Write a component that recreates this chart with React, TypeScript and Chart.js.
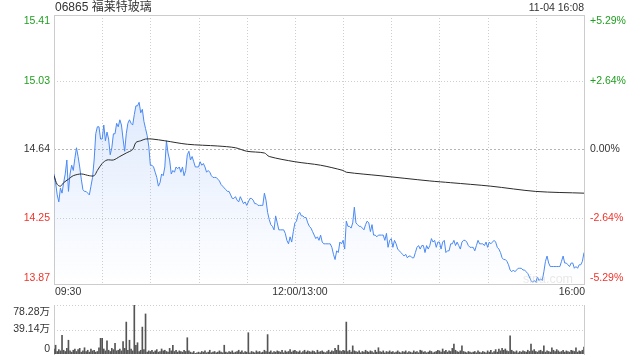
import React, { useEffect, useRef } from 'react';
import { Chart, registerables } from 'chart.js';

Chart.register(...registerables);

const title = '06865 福莱特玻璃';
const stamp = '11-04 16:08';
const watermark = 'sina.com';
const timeLabels = ['09:30', '12:00/13:00', '16:00'];
const timeLabelMinutes = [0, 150, 330];
const gridMinutes = [30, 60, 90, 120, 150, 180, 210, 240, 270, 300];
const prevClose = 14.64;
const priceTicks = [15.41, 15.03, 14.64, 14.25, 13.87];
const pctTicks = ['+5.29%', '+2.64%', '0.00%', '-2.64%', '-5.29%'];
const volTicks = [78.28, 39.14, 0];
const volTickLabels = ['78.28万', '39.14万', '0'];

// one price per trading minute, 09:30 .. 12:00 | 13:00 .. 16:00
const prices = [
  14.50, 14.45, 14.38, 14.34, 14.42, 14.39, 14.45, 14.50, 14.58, 14.40, 14.50, 14.55, 14.52, 14.59, 14.65, 14.60, 14.54, 14.47, 14.41, 14.40,
  14.40, 14.39, 14.38, 14.43, 14.48, 14.58, 14.73, 14.77, 14.77, 14.70, 14.70, 14.78, 14.69, 14.74, 14.70, 14.61, 14.65, 14.73, 14.73, 14.79,
  14.77, 14.81, 14.78, 14.70, 14.63, 14.73, 14.79, 14.81, 14.79, 14.78, 14.84, 14.89, 14.89, 14.91, 14.85, 14.87, 14.80, 14.76, 14.72, 14.66,
  14.55, 14.55, 14.54, 14.51, 14.48, 14.43, 14.45, 14.50, 14.49, 14.54, 14.69, 14.62, 14.58, 14.50, 14.52, 14.51, 14.54, 14.53, 14.54, 14.51,
  14.54, 14.49, 14.52, 14.61, 14.63, 14.58, 14.60, 14.57, 14.54, 14.54, 14.54, 14.57, 14.55, 14.56, 14.54, 14.51, 14.52, 14.51, 14.49, 14.48,
  14.48, 14.48, 14.47, 14.46, 14.44, 14.43, 14.42, 14.41, 14.40, 14.40, 14.38, 14.36, 14.36, 14.37, 14.35, 14.34, 14.37, 14.35, 14.33, 14.34,
  14.32, 14.34, 14.36, 14.36, 14.35, 14.33, 14.33, 14.32, 14.32, 14.32, 14.32, 14.39, 14.35, 14.28, 14.24, 14.21, 14.20, 14.18, 14.26, 14.22,
  14.18, 14.18, 14.18, 14.18, 14.16, 14.12, 14.10, 14.14, 14.11, 14.17, 14.22, 14.23, 14.27, 14.28, 14.26, 14.26, 14.25, 14.25, 14.22, 14.20,
  14.19, 14.17, 14.15, 14.13, 14.14, 14.12, 14.15, 14.11, 14.10, 14.10, 14.10, 14.10, 14.10, 14.08, 14.04, 14.01, 14.06, 14.05, 14.11, 14.10,
  14.12, 14.07, 14.23, 14.20, 14.20, 14.19, 14.22, 14.31, 14.22, 14.21, 14.20, 14.20, 14.19, 14.18, 14.21, 14.23, 14.22, 14.17, 14.21, 14.15,
  14.15, 14.14, 14.15, 14.15, 14.15, 14.15, 14.12, 14.16, 14.08, 14.12, 14.13, 14.08, 14.12, 14.10, 14.07, 14.06, 14.05, 14.04, 14.03, 14.04,
  14.02, 14.03, 14.03, 14.02, 14.02, 14.05, 14.08, 14.09, 14.07, 14.09, 14.09, 14.05, 14.09, 14.07, 14.09, 14.13, 14.11, 14.12, 14.08, 14.11,
  14.11, 14.07, 14.11, 14.12, 14.05, 14.06, 14.06, 14.10, 14.10, 14.12, 14.09, 14.11, 14.09, 14.07, 14.11, 14.12, 14.12, 14.11, 14.09, 14.08,
  14.08, 14.08, 14.06, 14.09, 14.12, 14.10, 14.10, 14.10, 14.09, 14.11, 14.08, 14.11, 14.10, 14.11, 14.12, 14.11, 14.08, 14.07, 14.05, 14.02,
  14.01, 14.01, 14.00, 13.98, 13.95, 13.94, 13.95, 13.94, 13.95, 13.96, 13.96, 13.96, 13.95, 13.95, 13.94, 13.93, 13.91, 13.89, 13.88, 13.89,
  13.88, 13.91, 13.89, 13.90, 13.89, 13.94, 14.00, 14.03, 13.99, 13.97, 13.97, 13.97, 13.97, 13.97, 13.97, 13.97, 14.00, 14.03, 13.99, 13.99,
  13.98, 13.97, 13.99, 13.99, 13.96, 13.97, 13.96, 13.98, 13.98, 14.00, 14.05,
];

// average price line, read at these trading minutes
const avgMinutes = [0, 2, 4, 6, 9, 12, 17, 22, 25, 27, 30, 33, 37, 41, 45, 49, 51, 54, 57, 61, 69, 83, 102, 113, 120, 131, 134, 150, 166, 180, 182, 203, 234, 247, 272, 300, 330];
const avgPrices = [14.49, 14.44, 14.43, 14.45, 14.47, 14.49, 14.50, 14.49, 14.49, 14.52, 14.56, 14.58, 14.58, 14.60, 14.62, 14.64, 14.68, 14.69, 14.70, 14.70, 14.69, 14.67, 14.66, 14.65, 14.63, 14.62, 14.60, 14.57, 14.55, 14.52, 14.51, 14.49, 14.46, 14.45, 14.43, 14.40, 14.39];

// volume per minute, in 万 shares
const volumes = [
  8, 14, 4, 7, 5, 30, 6, 4, 9, 22, 5, 3, 6, 8, 4, 7, 9, 3, 5, 10,
  4, 6, 3, 8, 5, 6, 3, 4, 10, 25, 25, 8, 5, 21, 6, 4, 9, 7, 17, 5,
  6, 8, 5, 20, 9, 51, 6, 22, 8, 5, 78, 14, 18, 4, 6, 43, 7, 64, 3, 5,
  4, 6, 3, 5, 7, 3, 4, 8, 5, 6, 4, 3, 9, 5, 14, 4, 6, 3, 5, 4,
  3, 6, 4, 26, 5, 3, 2, 4, 1, 2, 3, 2, 4, 3, 5, 2, 3, 6, 2, 3,
  4, 2, 3, 5, 3, 2, 14, 3, 2, 4, 3, 5, 2, 3, 4, 6, 3, 5, 2, 4,
  3, 34, 2, 4, 3, 2, 5, 3, 4, 2, 3, 6, 4, 31, 3, 5, 2, 4, 3, 5,
  4, 3, 6, 2, 5, 3, 4, 7, 3, 5, 6, 4, 3, 5, 2, 4, 6, 3, 5, 4,
  3, 5, 4, 2, 6, 3, 4, 5, 3, 2, 4, 6, 3, 5, 4, 9, 6, 14, 5, 4,
  6, 5, 51, 4, 6, 3, 13, 5, 4, 3, 5, 2, 4, 3, 6, 4, 3, 5, 4, 2,
  6, 3, 10, 4, 3, 5, 2, 4, 3, 5, 3, 4, 2, 3, 5, 3, 2, 4, 3, 5,
  2, 4, 3, 2, 5, 3, 4, 2, 6, 5, 3, 4, 2, 3, 5, 4, 2, 3, 4, 6,
  5, 3, 8, 4, 6, 3, 5, 4, 9, 16, 6, 4, 3, 5, 13, 4, 3, 2, 4, 3,
  2, 3, 4, 2, 5, 3, 2, 4, 3, 2, 5, 3, 6, 2, 4, 7, 3, 8, 5, 9,
  6, 8, 5, 4, 29, 6, 4, 3, 5, 2, 4, 3, 5, 4, 3, 6, 4, 16, 5, 7,
  4, 3, 5, 6, 4, 13, 3, 5, 4, 3, 10, 6, 4, 7, 5, 3, 4, 6, 3, 5,
  4, 3, 6, 5, 4, 10, 3, 5, 4, 6, 11,
];

const GREEN = '#1f9e1f';
const RED = '#f0332a';
const DARK = '#333333';
const FONT = '"Liberation Sans", Arial, sans-serif';
const LINE_BLUE = '#4a89f3';

function colorFor(v: number) {
  if (Math.abs(v - prevClose) < 0.001) return DARK;
  return v > prevClose ? GREEN : RED;
}

function dotted(ctx: CanvasRenderingContext2D, x1: number, y1: number, x2: number, y2: number, color: string, dash: number[]) {
  ctx.save();
  ctx.strokeStyle = color;
  ctx.lineWidth = 1;
  ctx.setLineDash(dash);
  ctx.beginPath();
  ctx.moveTo(x1, y1);
  ctx.lineTo(x2, y2);
  ctx.stroke();
  ctx.restore();
}

const priceDecor = {
  id: 'priceDecor',
  beforeDatasetsDraw(chart: any) {
    const { ctx, chartArea: a, scales } = chart;
    const x = scales.x, y = scales.y;
    gridMinutes.forEach((m) => {
      const px = Math.round(x.getPixelForValue(m)) + 0.5;
      dotted(ctx, px, a.top, px, a.bottom, '#cfcfcf', [1, 2]);
    });
    priceTicks.forEach((t) => {
      if (t === priceTicks[0] || t === priceTicks[priceTicks.length - 1]) return;
      const py = Math.round(y.getPixelForValue(t)) + 0.5;
      if (Math.abs(t - prevClose) < 0.001) dotted(ctx, a.left, py, a.right, py, '#b5b5b5', [2, 2]);
      else dotted(ctx, a.left, py, a.right, py, '#cfcfcf', [1, 2]);
    });
    ctx.save();
    ctx.strokeStyle = '#cccccc';
    ctx.lineWidth = 1;
    ctx.strokeRect(Math.round(a.left) + 0.5, Math.round(a.top) + 0.5, Math.round(a.right - a.left), Math.round(a.bottom - a.top));
    ctx.restore();
  },
  afterDatasetsDraw(chart: any) {
    const { ctx, chartArea: a, scales } = chart;
    const x = scales.x, y = scales.y;
    ctx.save();
    // watermark
    ctx.font = '12.5px ' + FONT;
    ctx.fillStyle = 'rgba(200,200,200,0.4)';
    ctx.textAlign = 'right';
    ctx.textBaseline = 'alphabetic';
    ctx.fillText(watermark, a.right - 11, a.bottom - 1);
    // title and time stamp
    ctx.textBaseline = 'middle';
    ctx.font = '12px "Liberation Sans", "Noto Sans CJK SC", sans-serif';
    ctx.fillStyle = DARK;
    ctx.textAlign = 'left';
    ctx.fillText(title, a.left + 1, 8);
    ctx.font = '10.5px ' + FONT;
    ctx.textAlign = 'right';
    ctx.fillText(stamp, a.right, 8);
    // price / percent labels
    ctx.font = '10.5px ' + FONT;
    priceTicks.forEach((t, i) => {
      const py = y.getPixelForValue(t);
      let yy = py;
      if (i === 0) { ctx.textBaseline = 'top'; yy = py + 1; }
      else if (i === priceTicks.length - 1) { ctx.textBaseline = 'alphabetic'; yy = py - 3; }
      else { ctx.textBaseline = 'middle'; }
      ctx.fillStyle = colorFor(t);
      ctx.textAlign = 'right';
      ctx.fillText(t.toFixed(2), a.left - 4, yy);
      ctx.textAlign = 'left';
      ctx.fillText(pctTicks[i], a.right + 6, yy);
    });
    // time labels
    ctx.fillStyle = DARK;
    ctx.textBaseline = 'alphabetic';
    timeLabels.forEach((lab, i) => {
      const px = x.getPixelForValue(timeLabelMinutes[i]);
      ctx.textAlign = i === 0 ? 'left' : i === timeLabels.length - 1 ? 'right' : 'center';
      ctx.fillText(lab, px + (i === 0 ? 1 : i === timeLabels.length - 1 ? 1 : 5), a.bottom + 11);
    });
    ctx.restore();
  },
};

const volDecor = {
  id: 'volDecor',
  beforeDatasetsDraw(chart: any) {
    const { ctx, chartArea: a, scales } = chart;
    const y = scales.y;
    volTicks.forEach((t) => {
      if (t === 0) return;
      const py = Math.round(y.getPixelForValue(t)) + 0.5;
      dotted(ctx, a.left, py, a.right, py, '#cfcfcf', [1, 2]);
    });
    ctx.save();
    ctx.strokeStyle = '#cccccc';
    ctx.lineWidth = 1;
    const l = Math.round(a.left) + 0.5, r = Math.round(a.right) + 0.5;
    ctx.beginPath();
    ctx.moveTo(l, a.top); ctx.lineTo(l, a.bottom + 1);
    ctx.moveTo(r, a.top); ctx.lineTo(r, a.bottom + 1);
    ctx.stroke();
    ctx.restore();
  },
  afterDatasetsDraw(chart: any) {
    const { ctx, chartArea: a, scales } = chart;
    const y = scales.y;
    ctx.save();
    ctx.font = '10.5px "Liberation Sans", "Noto Sans CJK SC", sans-serif';
    ctx.fillStyle = DARK;
    ctx.textAlign = 'right';
    volTicks.forEach((t, i) => {
      const py = y.getPixelForValue(t);
      let yy = py;
      if (i === 0) { ctx.textBaseline = 'top'; yy = py + 2; }
      else if (i === volTicks.length - 1) { ctx.textBaseline = 'alphabetic'; yy = py - 2; }
      else ctx.textBaseline = 'middle';
      ctx.fillText(volTickLabels[i], a.left - 4, yy);
    });
    ctx.restore();
  },
};

export default function App() {
  const priceRef = useRef<HTMLCanvasElement | null>(null);
  const volRef = useRef<HTMLCanvasElement | null>(null);

  useEffect(() => {
    document.body.style.margin = '0';
    if (!priceRef.current || !volRef.current) return;
    const xScale = { type: 'linear' as const, min: 0, max: 330, display: false };

    const priceChart = new Chart(priceRef.current, {
      type: 'line',
      data: {
        datasets: [
          {
            label: '均价',
            data: avgMinutes.map((m, i) => ({ x: m, y: avgPrices[i] })),
            borderColor: '#2b2b2b',
            borderWidth: 1,
            pointRadius: 0,
            fill: false,
            tension: 0.3,
          },
          {
            label: '价格',
            data: prices.map((p, i) => ({ x: i, y: p })),
            borderColor: LINE_BLUE,
            borderWidth: 1,
            pointRadius: 0,
            tension: 0,
            fill: 'start',
            backgroundColor: (c: any) => {
              const ch = c.chart;
              const ca = ch.chartArea;
              if (!ca) return 'rgba(74,137,243,0.1)';
              const g = ch.ctx.createLinearGradient(0, ca.top, 0, ca.bottom);
              g.addColorStop(0, 'rgba(74,137,243,0.26)');
              g.addColorStop(1, 'rgba(74,137,243,0.0)');
              return g;
            },
          },
        ],
      },
      options: {
        animation: false,
        responsive: false,
        maintainAspectRatio: false,
        layout: { padding: { left: 54, right: 56, top: 15, bottom: 76 } },
        scales: {
          x: xScale,
          y: { type: 'linear', min: priceTicks[priceTicks.length - 1], max: priceTicks[0], display: false },
        },
        plugins: { legend: { display: false }, tooltip: { enabled: false } },
      },
      plugins: [priceDecor],
    });

    const volChart = new Chart(volRef.current, {
      type: 'bar',
      data: {
        datasets: [
          {
            label: '成交量',
            data: volumes.map((v, i) => ({ x: i, y: v })),
            backgroundColor: '#555555',
            barThickness: 1,
          },
        ],
      },
      options: {
        animation: false,
        responsive: false,
        maintainAspectRatio: false,
        layout: { padding: { left: 54, right: 56, top: 305, bottom: 6 } },
        scales: {
          x: { ...xScale, offset: false },
          y: { type: 'linear', min: 0, max: volTicks[0], display: false },
        },
        plugins: { legend: { display: false }, tooltip: { enabled: false } },
      },
      plugins: [volDecor],
    });

    return () => {
      priceChart.destroy();
      volChart.destroy();
    };
  }, []);

  return (
    <div style={{ position: 'relative', width: 640, height: 360, background: '#fff' }}>
      <canvas ref={priceRef} width={640} height={360} style={{ position: 'absolute', left: 0, top: 0 }} />
      <canvas ref={volRef} width={640} height={360} style={{ position: 'absolute', left: 0, top: 0 }} />
    </div>
  );
}
